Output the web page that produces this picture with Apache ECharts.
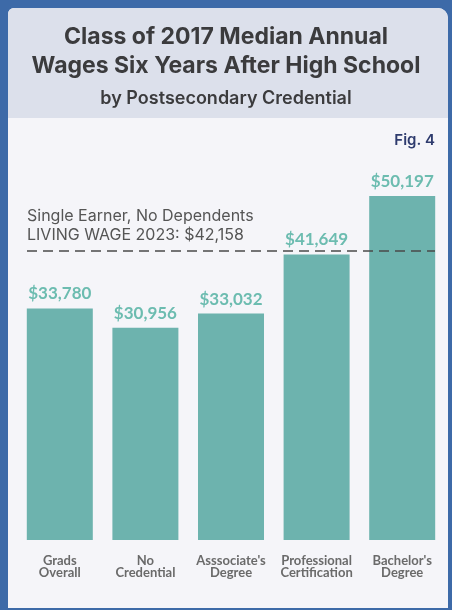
<!DOCTYPE html>
<html>
<head>
<meta charset="utf-8">
<script src="https://cdn.jsdelivr.net/npm/echarts@6/dist/echarts.min.js"></script>
<style>
  html, body { margin: 0; padding: 0; background: #3d6aa8; }
  #chart { width: 452px; height: 610px; }
</style>
</head>
<body>
<div id="chart"></div>
<script>
const categories = ['Grads\nOverall', 'No\nCredential', "Asssociate's\nDegree", 'Professional\nCertification', "Bachelor's\nDegree"];
const wages = [33780, 30956, 33032, 41649, 50197];
const livingWage = 42158;
const livingWageText = ['Single Earner, No Dependents', 'LIVING WAGE 2023: $42,158'];

const fmt = v => '$' + v.toLocaleString('en-US');
const FONT = 'Lato, sans-serif';
const HEAD = 'Inter, sans-serif';

var myChart = echarts.init(document.getElementById('chart'));
var option = {
  backgroundColor: '#3d6aa8',
  animation: false,
  graphic: [
    // card body
    { type: 'rect', left: 8, top: 8, z: -10,
      shape: { width: 440, height: 600, r: [6, 10, 0, 0] },
      style: { fill: '#f5f5f9' } },
    // header band
    { type: 'rect', left: 8, top: 8, z: -9,
      shape: { width: 440, height: 110, r: [6, 10, 0, 0] },
      style: { fill: '#dce0eb' } },
    { type: 'text', left: 'center', top: 23,
      style: { text: 'Class of 2017 Median Annual\nWages Six Years After High School', textAlign: 'center',
        fill: '#3b3b3d', font: 'bold 23px ' + HEAD, lineHeight: 29 } },
    { type: 'text', left: 'center', top: 90,
      style: { text: 'by Postsecondary Credential', textAlign: 'center',
        fill: '#3b3b3d', font: '600 18px ' + HEAD } },
    { type: 'text', right: 17, top: 133,
      style: { text: 'Fig. 4', fill: '#2e3b6e', font: '600 15px ' + HEAD } }
  ],
  grid: { left: 17, right: 7, top: 163, bottom: 70 },
  xAxis: {
    type: 'category',
    data: categories,
    axisLine: { show: false },
    axisTick: { show: false },
    axisLabel: { color: '#6a6a6a', fontSize: 13, fontWeight: 'bold', fontFamily: FONT,
      lineHeight: 12, margin: 15, interval: 0 }
  },
  yAxis: {
    type: 'value', min: 0, max: 55000, show: false,
    splitLine: { show: false }
  },
  series: [{
    type: 'bar',
    data: wages,
    barWidth: 66,
    itemStyle: { color: '#6db3ae' },
    label: {
      show: true, position: 'top', distance: 6,
      formatter: p => fmt(p.value),
      color: '#6cbcb0', fontSize: 17, fontWeight: 'bold', fontFamily: FONT
    },
    markLine: {
      symbol: 'none',
      silent: true,
      lineStyle: { color: '#4a4a4a', type: [10, 6], width: 1.5 },
      label: {
        show: true, position: 'insideStartTop', distance: [0, 6],
        formatter: livingWageText.join('\n'),
        color: '#555', fontSize: 16, lineHeight: 19, fontFamily: HEAD
      },
      data: [[{ x: 27, yAxis: livingWage }, { x: 435, yAxis: livingWage }]]
    }
  }]
};
myChart.setOption(option);
</script>
</body>
</html>
